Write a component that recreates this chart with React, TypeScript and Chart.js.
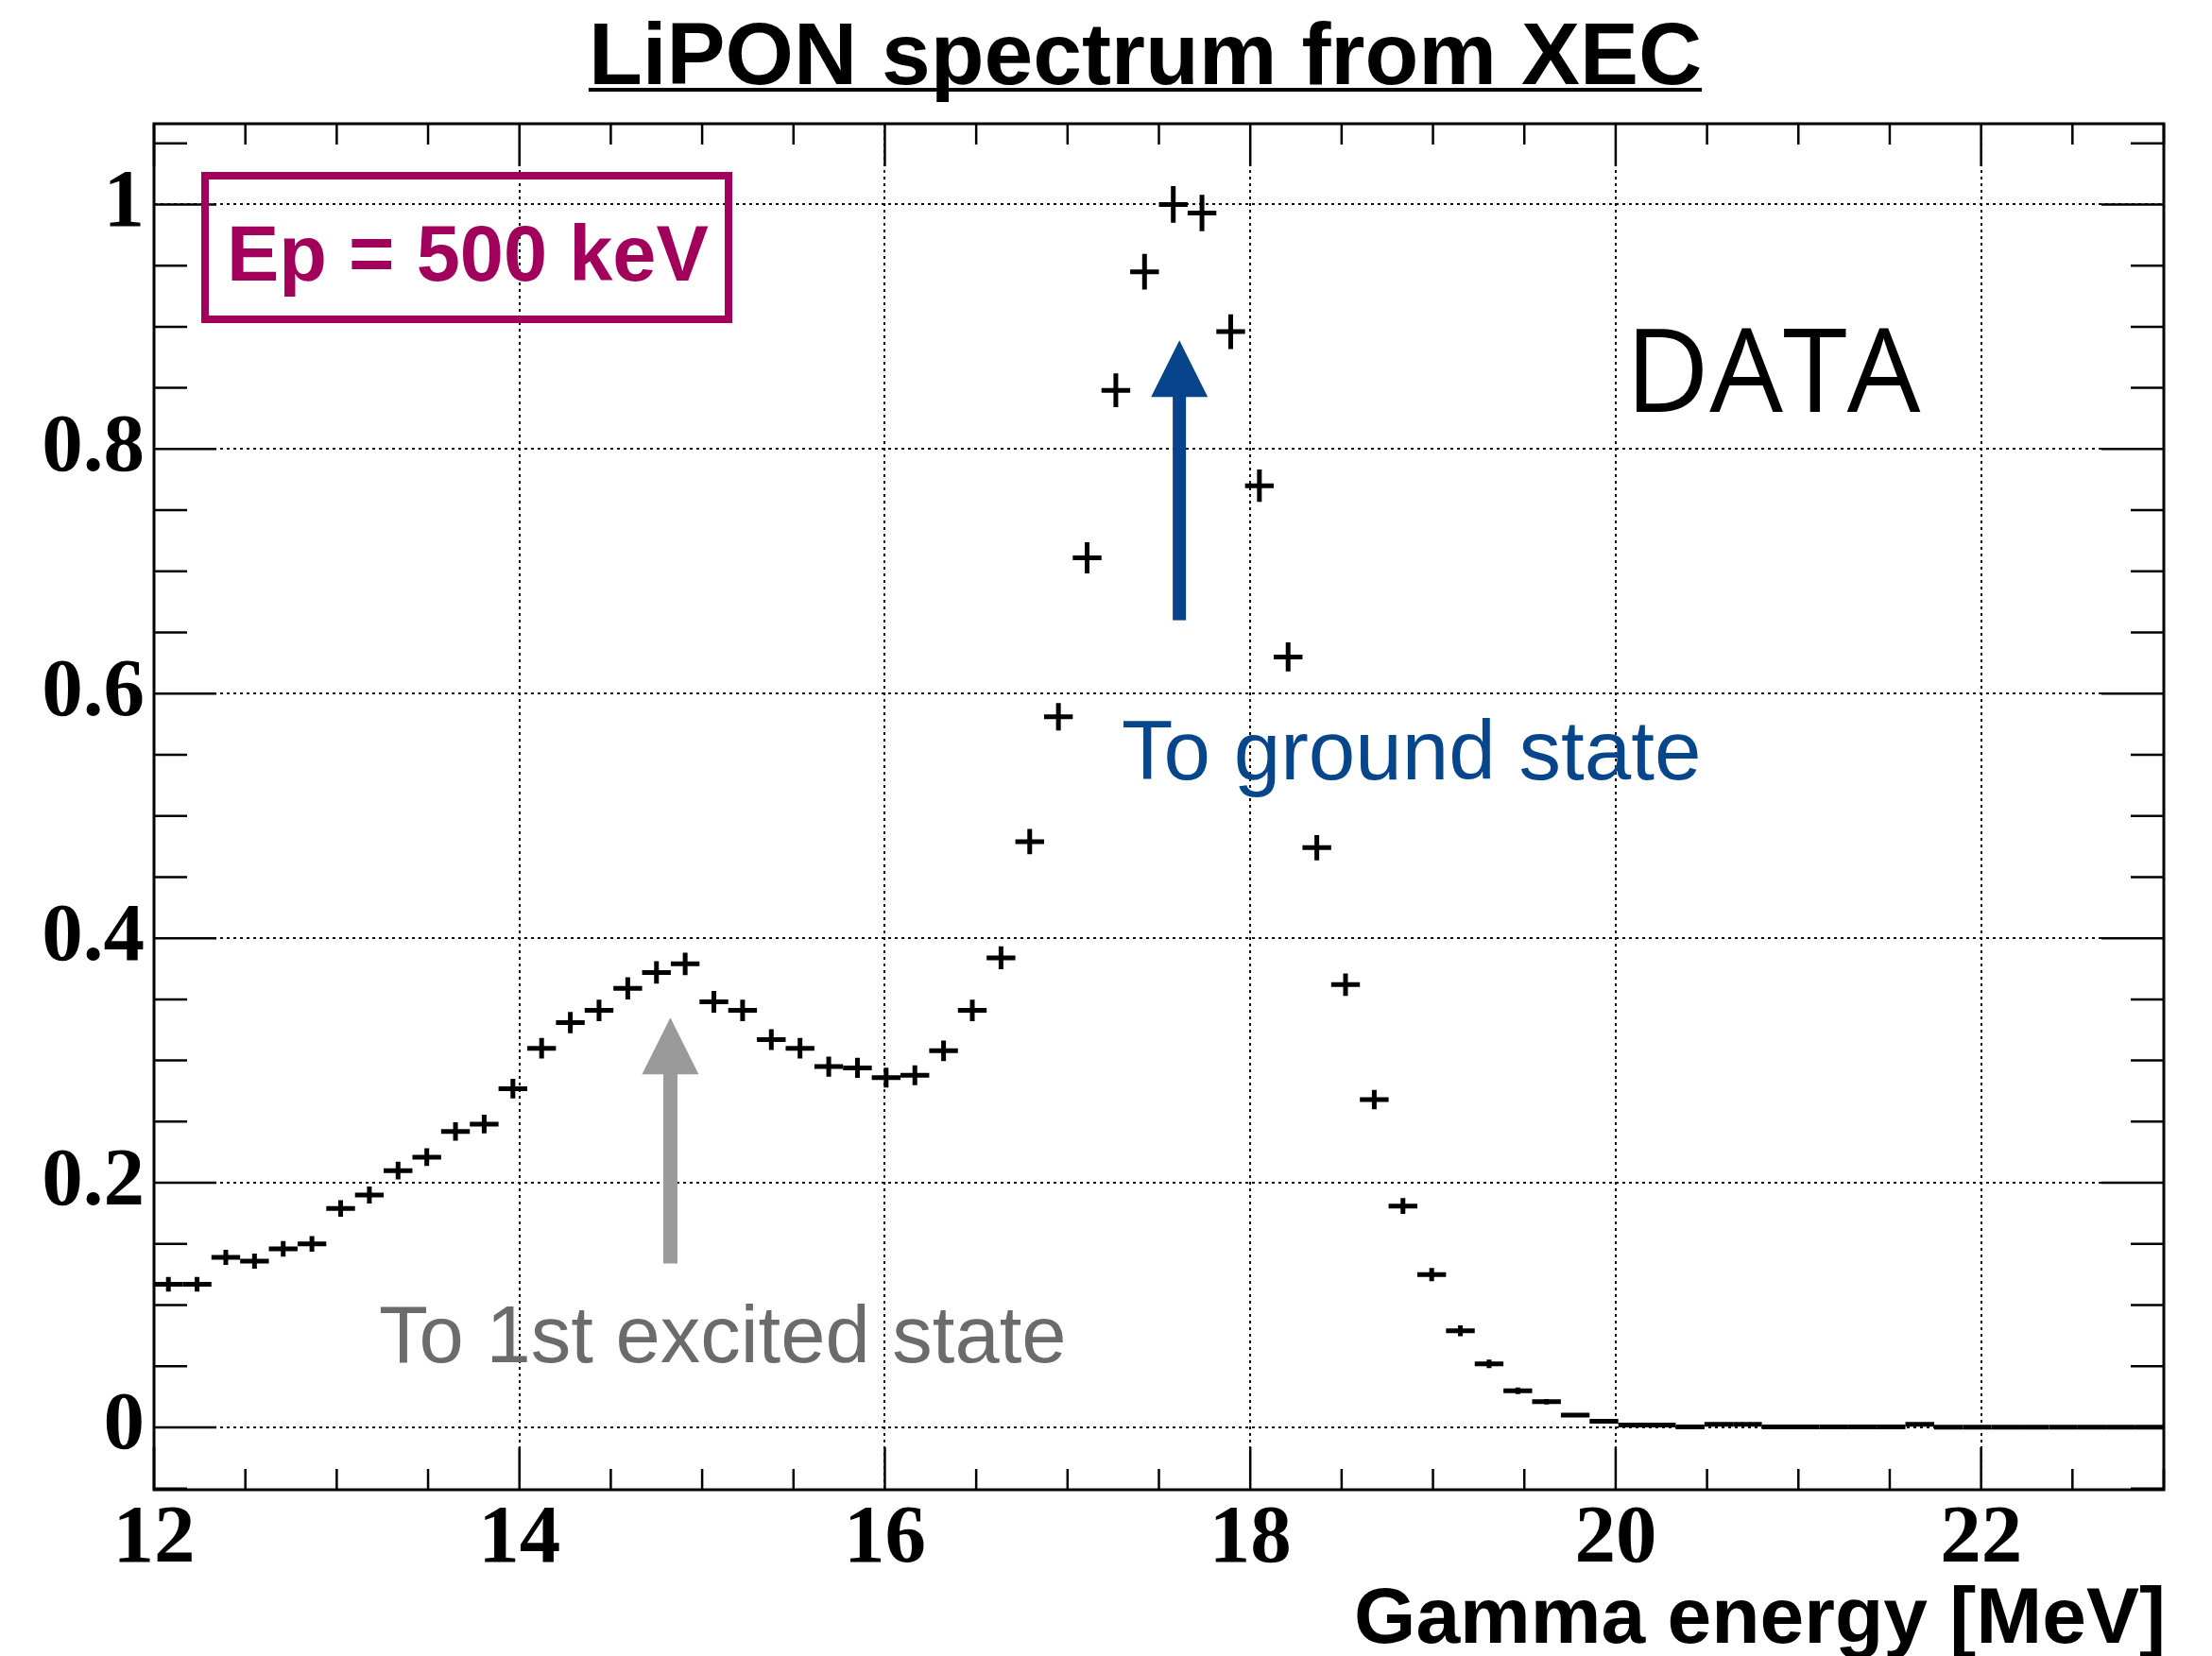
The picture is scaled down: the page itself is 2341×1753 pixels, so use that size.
import React, { useEffect, useRef } from 'react';
import { Chart, registerables } from 'chart.js';

Chart.register(...registerables);

// ---------------- data ----------------
const binCenters = [
  12.0786, 12.2357, 12.3929, 12.55, 12.7071, 12.8643, 13.0214, 13.1786, 13.3357, 13.4929,
  13.65, 13.8071, 13.9643, 14.1214, 14.2786, 14.4357, 14.5929, 14.75, 14.9071, 15.0643,
  15.2214, 15.3786, 15.5357, 15.6929, 15.85, 16.0071, 16.1643, 16.3214, 16.4786, 16.6357,
  16.7929, 16.95, 17.1071, 17.2643, 17.4214, 17.5786, 17.7357, 17.8929, 18.05, 18.2071,
  18.3643, 18.5214, 18.6786, 18.8357, 18.9929, 19.15, 19.3071, 19.4643, 19.6214, 19.7786,
  19.9357, 20.0929, 20.25, 20.4071, 20.5643, 20.7214, 20.8786, 21.0357, 21.1929, 21.35,
  21.5071, 21.6643, 21.8214, 21.9786, 22.1357, 22.2929, 22.45, 22.6071, 22.7643, 22.9214,
];
const BIN_HALF_WIDTH = 0.07857;

const counts = [
  0.117, 0.117, 0.139, 0.136, 0.146, 0.150, 0.179, 0.190, 0.210, 0.221,
  0.242, 0.248, 0.277, 0.310, 0.331, 0.341, 0.359, 0.372, 0.379, 0.348,
  0.341, 0.317, 0.310, 0.295, 0.294, 0.286, 0.288, 0.308, 0.341, 0.384,
  0.479, 0.581, 0.711, 0.848, 0.945, 1.000, 0.993, 0.896, 0.770, 0.630,
  0.474, 0.362, 0.268, 0.181, 0.125, 0.079, 0.052, 0.030, 0.021, 0.010,
  0.005, 0.002, 0.002, 0.0004, 0.0025, 0.0025, 0.0003, 0.0003, 0.0003, 0.0003,
  0.0003, 0.0025, 0.0002, 0.0002, 0.0002, 0.0002, 0.0002, 0.0002, 0.0002, 0.0002,
];

const countErrors = [
  0.0060, 0.0060, 0.0062, 0.0062, 0.0064, 0.0064, 0.0067, 0.0069, 0.0072, 0.0072,
  0.0075, 0.0076, 0.0080, 0.0084, 0.0087, 0.0088, 0.0090, 0.0092, 0.0092, 0.0089,
  0.0088, 0.0085, 0.0084, 0.0082, 0.0082, 0.0081, 0.0081, 0.0084, 0.0088, 0.0093,
  0.0104, 0.0112, 0.0127, 0.0138, 0.0146, 0.0150, 0.0149, 0.0142, 0.0132, 0.0119,
  0.0104, 0.0091, 0.0079, 0.0065, 0.0054, 0.0044, 0.0035, 0.0027, 0.0022, 0.0016,
  0.0012, 0.0007, 0.0007, 0.0003, 0.0008, 0.0008, 0.0003, 0.0003, 0.0003, 0.0003,
  0.0003, 0.0008, 0.0002, 0.0002, 0.0002, 0.0002, 0.0002, 0.0002, 0.0002, 0.0002,
];

// axis ranges and tick steps
const X_MIN = 12;
const X_MAX = 23;
const Y_MIN = -0.051;
const Y_MAX = 1.066;
const X_MAJOR = 2;
const X_MINOR = 0.5;
const Y_MAJOR = 0.2;
const Y_MINOR = 0.05;

// texts
const TITLE = 'LiPON spectrum from XEC';
const X_TITLE = 'Gamma energy [MeV]';
const BEAM_LABEL = 'Ep = 500 keV';
const DATA_LABEL = 'DATA';
const GROUND_LABEL = 'To ground state';
const EXCITED_LABEL = 'To 1st excited state';

// annotation arrows (data coordinates)
const groundArrow = { x: 17.612, yFrom: 0.66, yTo: 0.889, color: '#07448C', shaft: 14 };
const excitedArrow = { x: 14.826, yFrom: 0.134, yTo: 0.335, color: '#9A9A9A', shaft: 15 };

const W = 2341;
const H = 1753;

const whiteBg = {
  id: 'whiteBg',
  beforeDraw(chart: any) {
    const { ctx } = chart;
    ctx.save();
    ctx.fillStyle = '#ffffff';
    ctx.fillRect(0, 0, chart.width, chart.height);
    ctx.restore();
  },
};

const errorBars = {
  id: 'errorBars',
  afterDatasetsDraw(chart: any) {
    const { ctx, chartArea, scales } = chart;
    const x = scales.x;
    const y = scales.y;
    ctx.save();
    ctx.beginPath();
    ctx.rect(chartArea.left, chartArea.top, chartArea.right - chartArea.left, chartArea.bottom - chartArea.top);
    ctx.clip();
    ctx.strokeStyle = '#000';
    ctx.lineWidth = 5;
    ctx.lineCap = 'butt';
    const pts = chart.data.datasets[0].data as any[];
    pts.forEach((p) => {
      const px = x.getPixelForValue(p.x);
      const py = y.getPixelForValue(p.y);
      const x0 = x.getPixelForValue(p.x - BIN_HALF_WIDTH);
      const x1 = x.getPixelForValue(p.x + BIN_HALF_WIDTH);
      const y0 = y.getPixelForValue(p.y + p.err);
      const y1 = y.getPixelForValue(p.y - p.err);
      ctx.beginPath();
      ctx.moveTo(x0, py);
      ctx.lineTo(x1, py);
      ctx.moveTo(px, y0);
      ctx.lineTo(px, y1);
      ctx.stroke();
    });
    ctx.restore();
  },
};

const frameTicks = {
  id: 'frameTicks',
  afterDraw(chart: any) {
    const { ctx, chartArea, scales } = chart;
    const { left, right, top, bottom } = chartArea;
    const x = scales.x;
    const y = scales.y;
    ctx.save();
    ctx.strokeStyle = '#000';
    ctx.lineWidth = 2.5;
    ctx.beginPath();
    const nx = Math.round((X_MAX - X_MIN) / X_MINOR);
    const perMajorX = Math.round(X_MAJOR / X_MINOR);
    for (let k = 0; k <= nx; k++) {
      const v = X_MIN + k * X_MINOR;
      const px = x.getPixelForValue(v);
      const len = k % perMajorX === 0 ? 45 : 22;
      ctx.moveTo(px, bottom);
      ctx.lineTo(px, bottom - len);
      ctx.moveTo(px, top);
      ctx.lineTo(px, top + len);
    }
    const perMajorY = Math.round(Y_MAJOR / Y_MINOR);
    for (let k = -1; k <= 21; k++) {
      const v = k * Y_MINOR;
      const py = y.getPixelForValue(v);
      const len = ((k % perMajorY) + perMajorY) % perMajorY === 0 ? 66 : 35;
      ctx.moveTo(left, py);
      ctx.lineTo(left + len, py);
      ctx.moveTo(right, py);
      ctx.lineTo(right - len, py);
    }
    ctx.stroke();
    ctx.lineWidth = 3;
    ctx.strokeRect(left, top, right - left, bottom - top);
    ctx.restore();
  },
};

function drawArrow(ctx: any, chart: any, a: any) {
  const x = chart.scales.x;
  const y = chart.scales.y;
  const cx = x.getPixelForValue(a.x);
  const yb = y.getPixelForValue(a.yFrom);
  const yt = y.getPixelForValue(a.yTo);
  const headLen = 60;
  const headW = 60;
  ctx.fillStyle = a.color;
  ctx.fillRect(cx - a.shaft / 2, yt + headLen - 1, a.shaft, yb - (yt + headLen - 1));
  ctx.beginPath();
  ctx.moveTo(cx, yt);
  ctx.lineTo(cx - headW / 2, yt + headLen);
  ctx.lineTo(cx + headW / 2, yt + headLen);
  ctx.closePath();
  ctx.fill();
}

const annotations = {
  id: 'annotations',
  afterDraw(chart: any) {
    const { ctx } = chart;
    ctx.save();
    // title
    ctx.fillStyle = '#000';
    ctx.font = 'bold 93px "Liberation Sans", Arial, sans-serif';
    ctx.textAlign = 'center';
    ctx.textBaseline = 'alphabetic';
    ctx.fillText(TITLE, 1212, 89);
    const tw = ctx.measureText(TITLE).width;
    ctx.fillRect(1212 - tw / 2, 93, tw, 4);

    // beam energy box
    ctx.strokeStyle = '#A1005B';
    ctx.lineWidth = 8;
    ctx.strokeRect(217, 186, 554, 152);
    ctx.fillStyle = '#A1005B';
    ctx.textAlign = 'left';
    ctx.font = 'bold 83px "Liberation Sans", Arial, sans-serif';
    ctx.fillText(BEAM_LABEL, 240, 297);

    // DATA
    ctx.fillStyle = '#000';
    ctx.font = '123px "Open Sans", sans-serif';
    ctx.fillText(DATA_LABEL, 1720, 436);

    // arrows
    drawArrow(ctx, chart, groundArrow);
    drawArrow(ctx, chart, excitedArrow);

    // arrow labels
    ctx.fillStyle = '#08468C';
    ctx.font = '89px "Liberation Sans", Arial, sans-serif';
    ctx.fillText(GROUND_LABEL, 1187, 825);
    ctx.fillStyle = '#6B6B6B';
    ctx.font = '85px "Liberation Sans", Arial, sans-serif';
    ctx.fillText(EXCITED_LABEL, 401, 1442);

    // x axis title
    ctx.fillStyle = '#000';
    ctx.textAlign = 'right';
    ctx.font = 'bold 84px "Liberation Sans", Arial, sans-serif';
    ctx.fillText(X_TITLE, 2292, 1739);
    ctx.restore();
  },
};

export default function App() {
  const ref = useRef<HTMLCanvasElement | null>(null);
  useEffect(() => {
    if (!ref.current) return;
    const data = binCenters.map((c, i) => ({ x: c, y: counts[i], err: countErrors[i] }));
    const tickFont = { family: '"Liberation Serif", "Times New Roman", serif', weight: 'bold' as const, size: 87 };
    const chart = new Chart(ref.current, {
      type: 'scatter',
      data: {
        datasets: [
          {
            label: 'DATA',
            data,
            pointRadius: 0,
            showLine: false,
          },
        ],
      },
      plugins: [whiteBg, errorBars, frameTicks, annotations],
      options: {
        responsive: false,
        animation: false,
        devicePixelRatio: 1,
        events: [],
        layout: { padding: { left: 0, right: W - 2290, top: 131, bottom: 0 } },
        plugins: { legend: { display: false }, tooltip: { enabled: false }, title: { display: false } },
        scales: {
          x: {
            type: 'linear',
            min: X_MIN,
            max: X_MAX,
            afterFit: (s: any) => {
              s.height = H - 1577;
            },
            ticks: {
              stepSize: X_MAJOR,
              includeBounds: false,
              maxRotation: 0,
              autoSkip: false,
              padding: 1,
              color: '#000',
              font: tickFont,
              callback: (v: any) => String(Number(Number(v).toFixed(1))),
            },
            grid: { color: '#111', lineWidth: 2, drawTicks: false },
            border: { display: false, dash: [3, 4] },
          },
          y: {
            type: 'linear',
            min: Y_MIN,
            max: Y_MAX,
            afterFit: (s: any) => {
              s.width = 163;
            },
            ticks: {
              stepSize: Y_MAJOR,
              includeBounds: false,
              autoSkip: false,
              padding: 10,
              color: '#000',
              font: tickFont,
              callback: (v: any) => String(Number(Number(v).toFixed(1))),
            },
            grid: { color: '#111', lineWidth: 2, drawTicks: false },
            border: { display: false, dash: [3, 4] },
          },
        },
      },
    });
    return () => chart.destroy();
  }, []);
  return (
    <div style={{ position: 'absolute', left: 0, top: 0, width: W, height: H, background: '#fff' }}>
      <canvas ref={ref} width={W} height={H} style={{ display: 'block', width: W, height: H }} />
    </div>
  );
}
